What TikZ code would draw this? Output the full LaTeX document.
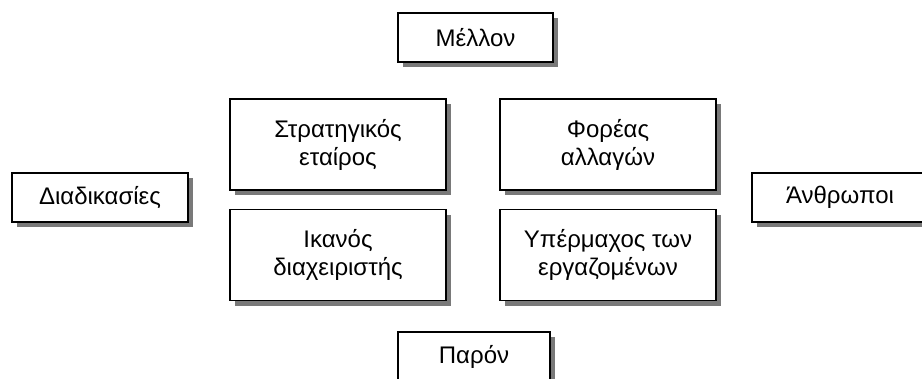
\documentclass[tikz,border=0pt]{standalone}
\usepackage{fontspec}
\setmainfont{Liberation Sans}
\usetikzlibrary{shadows}
\begin{document}
\begin{tikzpicture}[x=1pt,y=-1pt,
  box/.style={draw=black, line width=1.5pt, fill=white, inner sep=0pt, align=center,
    font=\fontsize{24}{28}\selectfont,
    drop shadow={shadow xshift=5pt, shadow yshift=-5pt, fill=gray!95!black, opacity=1}},
  bigbox/.style={box, minimum width=216pt, minimum height=91pt},
  smallbox/.style={box, minimum height=49pt}]
\useasboundingbox (0,0) rectangle (922,378);
\node[smallbox, minimum width=155pt] (future) at (475.5,37.5) {Μέλλον};
\node[bigbox] (strat) at (338,144.5) {Στρατηγικός\\εταίρος};
\node[bigbox] (ikanos) at (338,255) {Ικανός\\διαχειριστής};
\node[bigbox] (foreas) at (608,144.5) {Φορέας\\αλλαγών};
\node[bigbox] (yper) at (608,255) {Υπέρμαχος των\\εργαζομένων};
\node[smallbox, minimum width=176pt] (proc) at (100,197.5) {Διαδικασίες};
\node[smallbox, minimum width=176pt] (people) at (840,197.5) {Άνθρωποι};
\node[smallbox, minimum width=152pt] (present) at (474,356.5) {Παρόν};
\end{tikzpicture}
\end{document}
